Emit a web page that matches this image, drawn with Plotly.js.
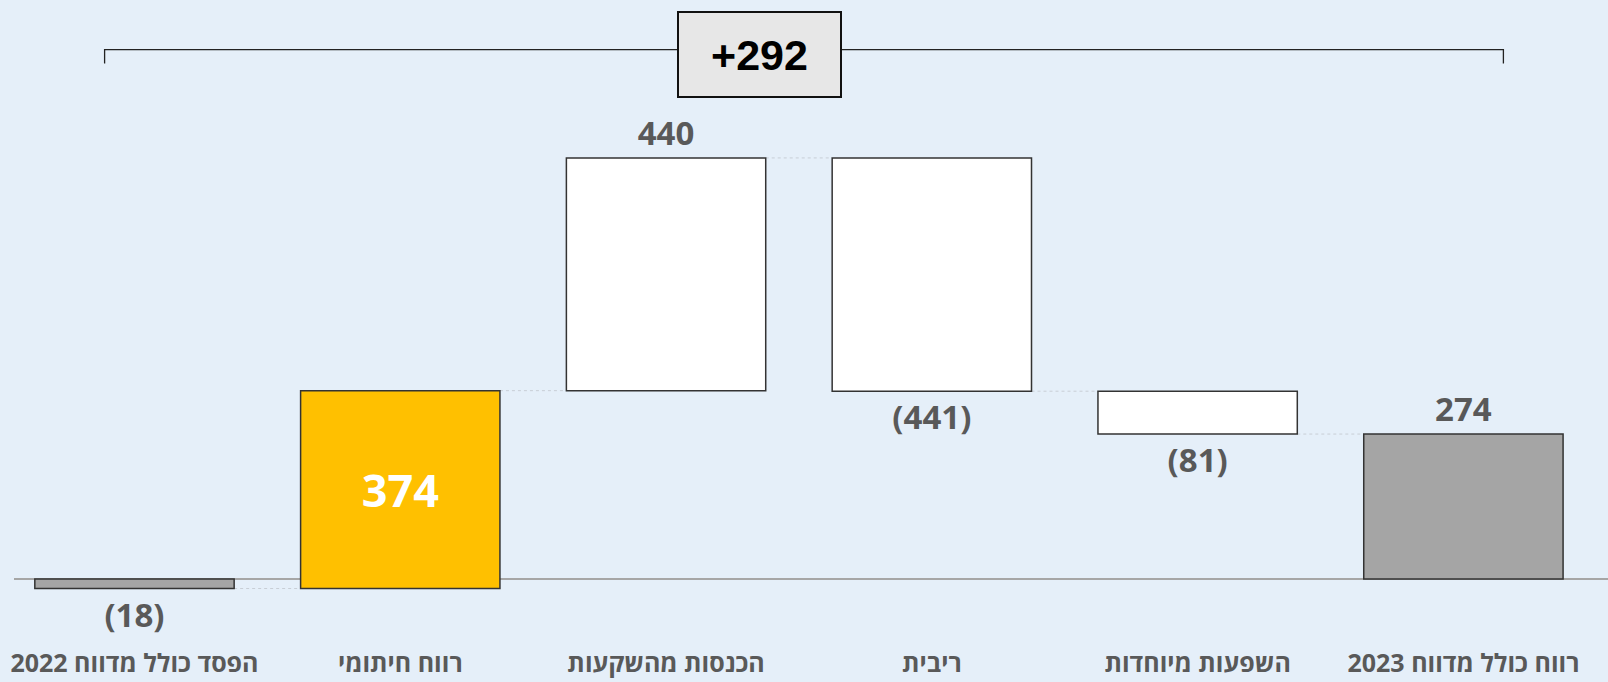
<!DOCTYPE html>
<html>
<head>
<meta charset="utf-8">
<script src="https://cdn.plot.ly/plotly-3.0.1.min.js"></script>
<style>html,body{margin:0;padding:0;background:#e5eff9;}#chart{width:1608px;height:682px;}</style>
</head>
<body>
<div id="chart"></div>
<script>
// ---- data ----
const categories = ['הפסד כולל מדווח 2022', 'רווח חיתומי', 'הכנסות מהשקעות', 'ריבית', 'השפעות מיוחדות', 'רווח כולל מדווח 2023'];
const values = [-18, 374, 440, -441, -81, 274];
const measures = ['absolute', 'relative', 'relative', 'relative', 'relative', 'total'];

// ---- styles ----
const barColors = ['#a5a5a5', '#ffc000', '#ffffff', '#ffffff', '#ffffff', '#a5a5a5'];
const textPositions = ['outside', 'inside', 'outside', 'outside', 'outside', 'outside'];
const textColors = ['#595959', '#ffffff', '#595959', '#595959', '#595959', '#595959'];
const textSizes = [33, 45, 33, 33, 33, 33];

// ---- waterfall geometry from data ----
let running = 0;
const bases = [], heights = [], ends = [];
values.forEach((v, i) => {
  if (measures[i] === 'absolute') { bases.push(0); heights.push(v); running = v; }
  else if (measures[i] === 'relative') { bases.push(running); heights.push(v); running += v; }
  else { bases.push(0); heights.push(running); }
  ends.push(running);
});
const fmt = v => v < 0 ? '(' + (-v) + ')' : String(v);
const labels = values.map(fmt);
const change = ends[ends.length - 1] - values[0];
const changeLabel = (change >= 0 ? '+' : '') + change;

const BW = 0.75;
const connectors = [];
for (let i = 0; i < categories.length - 1; i++) {
  connectors.push({
    type: 'line', xref: 'x', yref: 'y', layer: 'below',
    x0: i + BW / 2, x1: i + 1 - BW / 2, y0: ends[i], y1: ends[i],
    line: {color: '#c8ced6', width: 1, dash: 'dot'}
  });
}

const fontFam = 'Open Sans, Noto Sans, DejaVu Sans, sans-serif';

const trace = {
  type: 'bar',
  x: categories,
  y: heights,
  base: bases,
  width: BW,
  marker: {color: barColors, line: {color: '#333333', width: 1.5}},
  text: labels,
  textposition: textPositions,
  insidetextanchor: 'middle',
  textangle: 0,
  constraintext: 'none',
  cliponaxis: false,
  textfont: {family: fontFam, size: textSizes, color: textColors, weight: 'bold'},
  hoverinfo: 'skip'
};

const L = 14, T = 0, B = 40, W = 1608, H = 682;
const pw = W - L, ph = H - T - B;
const px = x => (x - L) / pw;
const py = y => 1 - (y - T) / ph;

const layout = {
  width: W, height: H,
  margin: {l: L, r: 0, t: T, b: B, pad: 0},
  paper_bgcolor: '#e5eff9',
  plot_bgcolor: '#e5eff9',
  showlegend: false,
  bargap: 0.25,
  xaxis: {
    type: 'category',
    range: [-0.4533, 5.544],
    showgrid: false, showline: false, zeroline: false, ticks: '',
    tickfont: {family: fontFam, size: 25, color: '#595959', weight: 'bold'},
    ticklabelstandoff: 4,
    fixedrange: true
  },
  yaxis: {
    range: [-119.1, 1094.5],
    showgrid: false, showline: false, showticklabels: false, ticks: '',
    zeroline: true, zerolinecolor: '#a6a6a6', zerolinewidth: 1.5,
    fixedrange: true
  },
  shapes: connectors.concat([{
    type: 'path', xref: 'paper', yref: 'paper',
    path: 'M ' + px(104.6) + ' ' + py(63.6) + ' L ' + px(104.6) + ' ' + py(49.6) +
          ' L ' + px(1503.4) + ' ' + py(49.6) + ' L ' + px(1503.4) + ' ' + py(63.6),
    line: {color: '#222222', width: 1.3}
  }]),
  annotations: [{
    xref: 'paper', yref: 'paper', x: px(759.2), y: py(55), xanchor: 'center', yanchor: 'middle',
    text: changeLabel, showarrow: false,
    font: {family: 'Liberation Sans, Arial, sans-serif', size: 43, color: '#000000', weight: 'bold'},
    bgcolor: '#e7e7e7', bordercolor: '#111111', borderwidth: 2, borderpad: 0,
    width: 161, height: 83
  }]
};

Plotly.newPlot('chart', [trace], layout, {displayModeBar: false, staticPlot: true});
</script>
</body>
</html>
